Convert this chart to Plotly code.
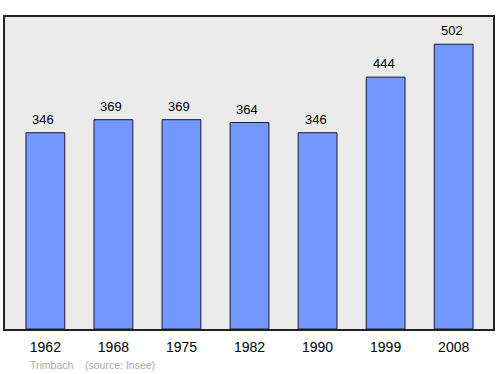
import plotly.graph_objects as go

years = ["1962", "1968", "1975", "1982", "1990", "1999", "2008"]
population = [346, 369, 369, 364, 346, 444, 502]

FONT = "Liberation Sans, Arial, sans-serif"

fig = go.Figure()
fig.add_trace(go.Bar(
    x=list(range(len(years))), y=population,
    width=0.57,
    marker=dict(color="#7399ff", line=dict(color="#1a1a33", width=1)),
    hoverinfo="skip",
))
for i, v in enumerate(population):
    fig.add_annotation(x=i - 0.03, y=v, text=str(v), showarrow=False,
                       yanchor="bottom", yshift=4,
                       font=dict(family=FONT, size=13, color="#000000"))
fig.update_layout(
    width=500, height=374,
    margin=dict(l=5, r=5, t=17, b=45),
    paper_bgcolor="white", plot_bgcolor="#ebebeb",
    showlegend=False,
    xaxis=dict(range=[-0.593, 6.578], tickmode="array",
               tickvals=list(range(len(years))), ticktext=years,
               showgrid=False, zeroline=False, showline=True, mirror=True,
               linecolor="#222222", linewidth=1.5, ticks="", ticklabelstandoff=4,
               tickfont=dict(family=FONT, size=14, color="#000000")),
    yaxis=dict(range=[0, 550], showgrid=False, zeroline=False, showticklabels=False,
               showline=True, mirror=True, linecolor="#222222", linewidth=1.5, ticks=""),
)
fig.add_annotation(text="Trimbach &nbsp;&nbsp;&nbsp;(source: Insee)", xref="paper", yref="paper",
                   x=0.047, y=-0.115, xanchor="left", yanchor="middle", showarrow=False,
                   font=dict(family=FONT, size=10.5, color="#aaaaaa"))
fig.write_html("out.html")
